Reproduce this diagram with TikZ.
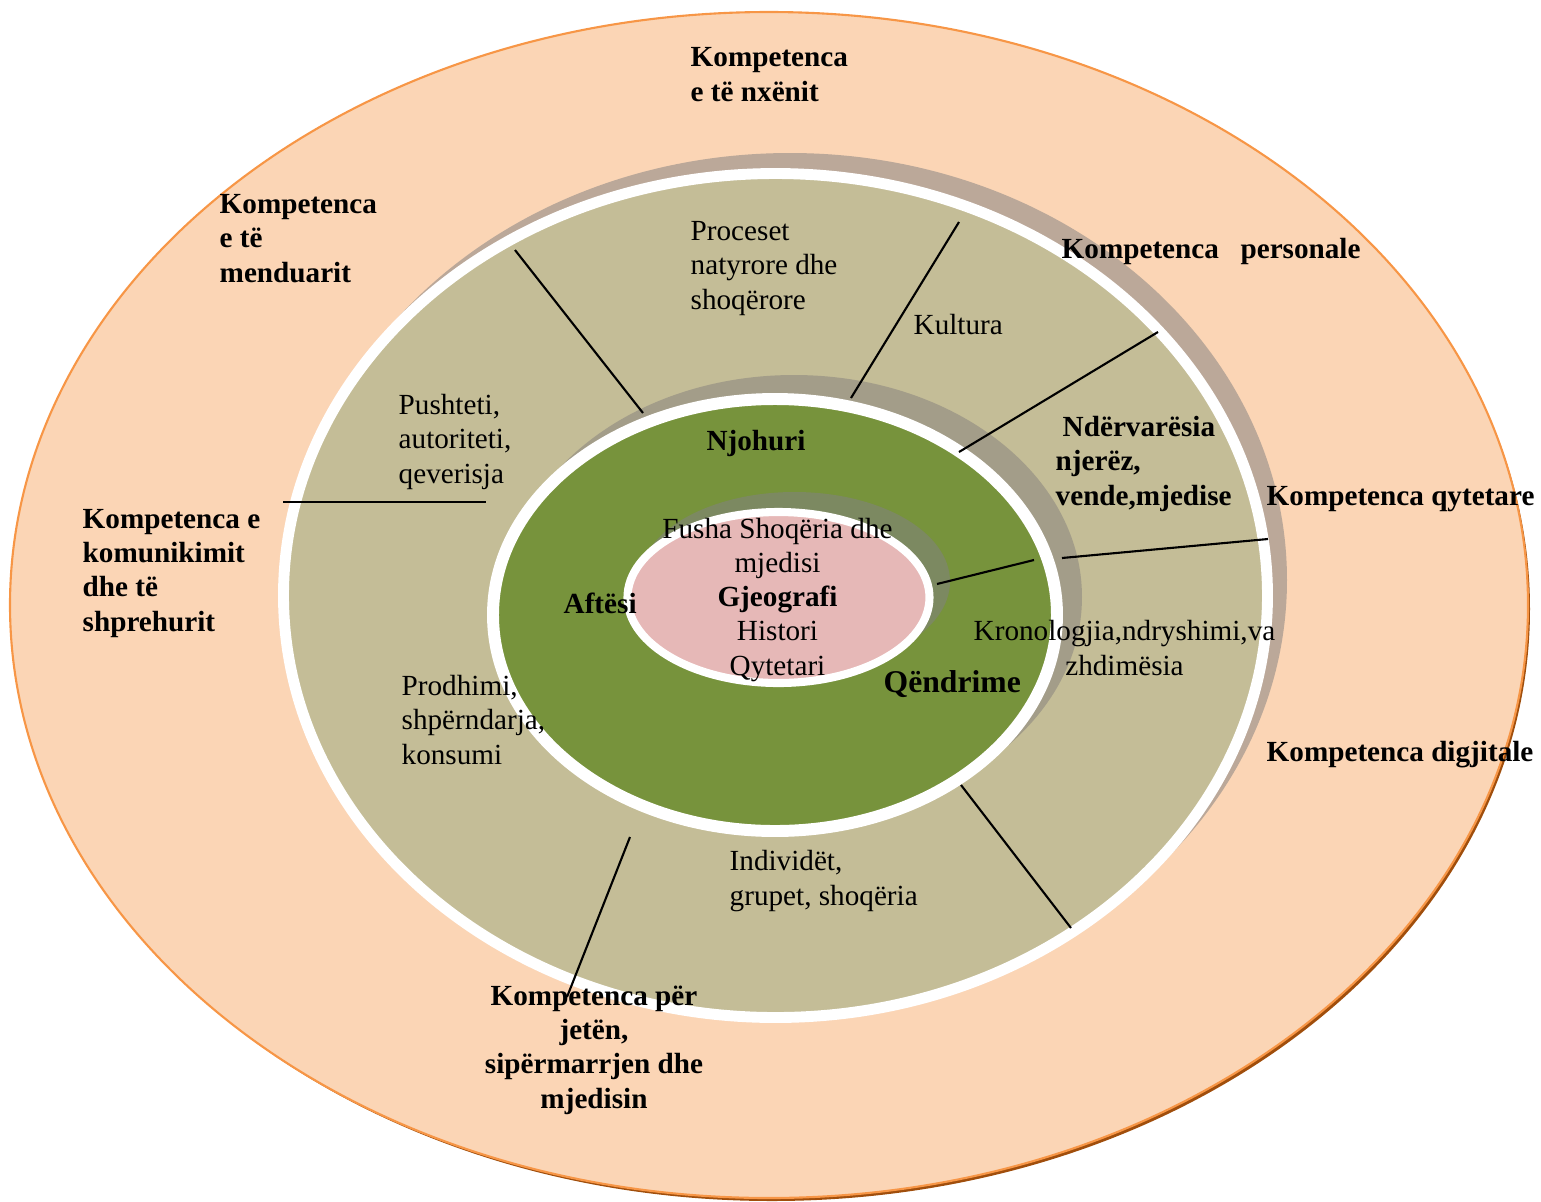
\documentclass[tikz,border=0pt]{standalone}
\usepackage{fontspec}
\setmainfont{Liberation Serif}
\definecolor{peach}{RGB}{251,213,181}
\definecolor{rimorange}{RGB}{247,150,70}
\definecolor{rimdark}{RGB}{160,78,12}
\definecolor{outershade}{RGB}{187,168,153}
\definecolor{sand}{RGB}{196,189,151}
\definecolor{innershade}{RGB}{163,157,137}
\definecolor{leaf}{RGB}{119,147,60}
\definecolor{coreshade}{RGB}{124,137,97}
\definecolor{rose}{RGB}{230,184,183}
\tikzset{
  lbl/.style={inner sep=0, font=\fontsize{8.3}{9.7}\selectfont, align=left, anchor=base west},
  key/.style={lbl, font=\fontsize{8.3}{9.7}\selectfont\bfseries},
  rim/.style={draw=white, line width=#1},
  divider/.style={draw=black, line width=.6pt}
}
\begin{document}
\begin{tikzpicture}[x=.01cm, y=-.01cm]
	\useasboundingbox (0,0) rectangle (1541,1202);
	\fill[rimdark] (772,609) ellipse [x radius=758, y radius=592];
	\filldraw[fill=peach, draw=rimorange, line width=.6pt] (769,605) ellipse [x radius=759, y radius=593];
	\fill[outershade] (790,580) ellipse [x radius=497, y radius=427];
	\filldraw[fill=sand, rim=3.1pt] (775.5,595.5) ellipse [x radius=492, y radius=422];
	\fill[innershade] (794,597) ellipse [x radius=288, y radius=222];
	\filldraw[fill=leaf, rim=3.4pt] (775,615) ellipse [x radius=282, y radius=216];
	\fill[coreshade] (794.5,581.5) ellipse [x radius=155.5, y radius=89.5];
	\filldraw[fill=rose, rim=2.3pt] (778.5,597.5) ellipse [x radius=151, y radius=85.5];
	\draw[divider] (515,250) -- (643,413);
	\draw[divider] (959,222) -- (851,398);
	\draw[divider] (1158,332) -- (959,452);
	\draw[divider] (283,502) -- (486,502);
	\draw[divider] (1268,539) -- (1062,558);
	\draw[divider] (1034,560) -- (937,584);
	\draw[divider] (961,785) -- (1071,928);
	\draw[divider] (630,837) -- (567,997);
	\node[key] (learn)    at (690,101)  {Kompetenca\\e të nxënit};
	\node[key] (think)    at (219,282)  {Kompetenca\\e të\\menduarit};
	\node[key] (personal) at (1061,258) {Kompetenca\ \ \hspace{2pt}personale};
	\node[key] (civic)    at (1266,505) {Kompetenca qytetare};
	\node[key] (digital)  at (1266,761) {Kompetenca digjitale};
	\node[key] (speak)    at (82,631)   {Kompetenca e\\komunikimit\\dhe të\\shprehurit};
	\node[key, align=center, anchor=base] (life) at (594,1108) {Kompetenca për\\jetën,\\sipërmarrjen dhe\\mjedisin};
	\node[lbl] (process)  at (690,309)  {Proceset\\natyrore dhe\\shoqërore};
	\node[lbl] (culture)  at (913,334)  {Kultura};
	\node[lbl] (power)    at (398,483)  {Pushteti,\\autoriteti,\\qeverisja};
	\node[key] (links)    at (1055,505) {\hspace{2pt}Ndërvarësia\\njerëz,\\vende,mjedise};
	\node[lbl, align=center, anchor=base] (chrono) at (1124.5,675) {Kronologjia,ndryshimi,va\\zhdimësia};
	\node[lbl] (output)   at (401,764)  {Prodhimi,\\shpërndarja,\\konsumi};
	\node[lbl] (people)   at (729,905)  {Individët,\\grupet, shoqëria};
	\node[key, anchor=base] (know) at (756,450) {Njohuri};
	\node[key] (skill)    at (563,613)  {Aftësi};
	\node[key, font=\fontsize{9}{10.5}\selectfont\bfseries] (attit) at (883,692) {Qëndrime};
	\node[lbl, align=center, anchor=base] (core) at (777.5,675) {Fusha Shoqëria dhe\\mjedisi\\\textbf{Gjeografi}\\Histori\\Qytetari};
\end{tikzpicture}
\end{document}
